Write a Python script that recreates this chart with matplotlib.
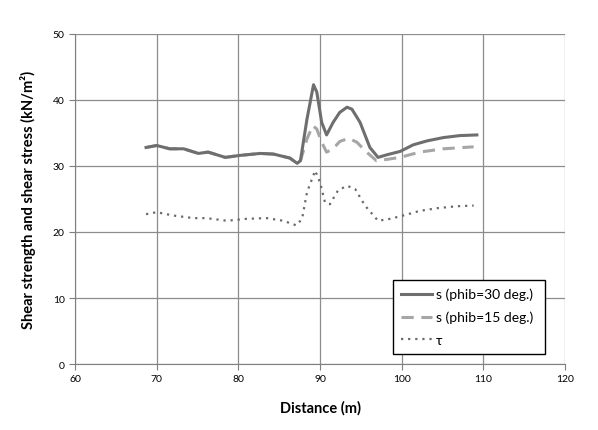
import matplotlib.pyplot as plt

# solid line: s (phib=30 deg.)
x30=[68.7,70.0,71.6,73.3,75.1,76.3,78.4,80.2,82.7,84.3,86.3,87.2,87.6,88.4,89.2,89.6,90.2,90.8,91.6,92.4,93.3,93.9,94.9,96.1,97.1,98.2,99.8,101.4,103.1,105.1,107.1,109.2]
s30=[32.8,33.1,32.6,32.6,31.9,32.1,31.3,31.6,31.9,31.8,31.2,30.4,30.8,37.1,42.3,41.2,36.6,34.7,36.6,38.1,38.9,38.6,36.6,32.8,31.3,31.7,32.2,33.2,33.8,34.3,34.6,34.7]

# dashed line: s (phib=15 deg.)
x15=[68.7,70.0,71.6,73.3,75.1,76.3,78.4,80.2,82.7,84.3,86.3,87.2,87.6,88.4,89.1,89.6,90.2,90.8,91.6,92.4,93.5,94.5,95.7,96.9,98.2,99.8,102.2,105.1,108.8]
s15=[32.8,33.1,32.6,32.6,31.9,32.1,31.3,31.6,31.9,31.8,31.2,30.4,30.8,34.1,36.1,35.6,33.6,32.1,32.6,33.7,34.2,33.6,32.1,30.8,31.0,31.3,32.1,32.6,32.9]

# dotted line: tau
xt=[68.7,70.0,72.0,74.5,76.1,78.6,81.0,83.5,85.5,87.1,87.8,88.4,89.4,90.0,90.6,91.2,92.2,93.3,94.3,95.5,97.1,98.6,100.2,102.2,104.3,106.7,108.8]
tau=[22.7,23.0,22.5,22.1,22.1,21.7,22.0,22.1,21.7,21.0,22.0,26.0,29.3,27.5,24.5,24.2,26.3,27.0,26.5,24.0,21.7,22.0,22.5,23.2,23.6,23.9,24.0]

plt.rcParams['font.family']=['Lato','DejaVu Sans']

fig=plt.figure(figsize=(5.98,4.31),dpi=100)
ax=fig.add_axes([0.1254,0.153,0.8196,0.766])

ax.plot(x30,s30,color="#6e6e6e",lw=2.2,label="s (phib=30 deg.)",zorder=3)
ax.plot(x15,s15,color="#a6a6a6",lw=2.2,ls=(0,(4,2.5)),label="s (phib=15 deg.)",zorder=2)
ax.plot(xt,tau,color="#6a6a6a",lw=1.6,ls=(0,(1,2.2)),label="τ",zorder=2)

ax.set_xlim(60,120)
ax.set_ylim(0,50)
ax.set_xticks(range(60,121,10))
ax.set_yticks(range(0,51,10))
ax.grid(True,color="#8c8c8c",lw=0.9)
ax.set_axisbelow(True)
for sp in ["top","right"]:
    ax.spines[sp].set_visible(False)
for sp in ["left","bottom"]:
    ax.spines[sp].set_color("#7f7f7f")
ax.tick_params(axis="both",labelsize=7.5,length=4,color="#7f7f7f",direction="out")
ax.set_xlabel("Distance (m)",fontsize=10.5,fontweight="bold",labelpad=12)
ax.set_ylabel("Shear strength and shear stress (kN/m²)",fontsize=10.5,fontweight="bold",labelpad=12)

leg=ax.legend(loc="lower left",bbox_to_anchor=(0.649,0.03,0.31,0.258),mode="expand",
              fontsize=10,fancybox=False,framealpha=1,edgecolor="black",handlelength=2.2,
              borderaxespad=0,labelspacing=0.75,handletextpad=0.3,borderpad=0.6)
leg.get_frame().set_linewidth(1.0)

plt.savefig("out.png",dpi=100)
